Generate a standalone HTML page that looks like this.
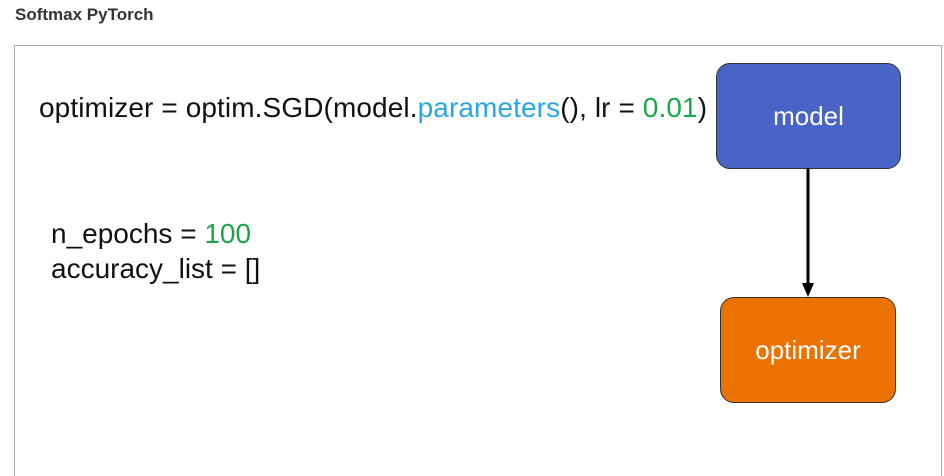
<!DOCTYPE html>
<html><head><style>
body{margin:0;width:944px;height:451px;background:#fff;position:relative;overflow:hidden;font-family:"Liberation Sans",sans-serif}
.t{position:absolute;left:15px;top:5px;font-size:17px;font-weight:bold;color:#333}
.frame{position:absolute;left:14px;top:45px;width:926px;height:430px;border:1px solid #aaa;border-bottom:none}
.c{position:absolute;font-size:28px;color:#111;white-space:nowrap}
.b{color:#2aa6e6}.g{color:#1aa64a}
.box{position:absolute;border:1px solid #333;border-radius:14px;color:#fff;font-size:26px;display:flex;align-items:center;justify-content:center}
</style></head><body>
<div class="t">Softmax PyTorch</div>
<div class="frame"></div>
<div class="c" style="left:39px;top:92px;letter-spacing:0.1px">optimizer = optim.SGD(model.<span class="b">parameters</span>(), lr = <span class="g">0.01</span>)</div>
<div class="c" style="left:51px;top:218px">n_epochs = <span class="g">100</span></div>
<div class="c" style="left:51px;top:253px">accuracy_list = []</div>
<div class="box" style="left:716px;top:63px;width:183px;height:104px;background:#4a63c6">model</div>
<div class="box" style="left:720px;top:297px;width:174px;height:104px;background:#ec7200">optimizer</div>
<svg style="position:absolute;left:0;top:0" width="944" height="451">
<line x1="808" y1="168" x2="808" y2="284" stroke="#000" stroke-width="3"/>
<polygon points="802,283 814,283 808,297" fill="#000"/>
</svg>
</body></html>
